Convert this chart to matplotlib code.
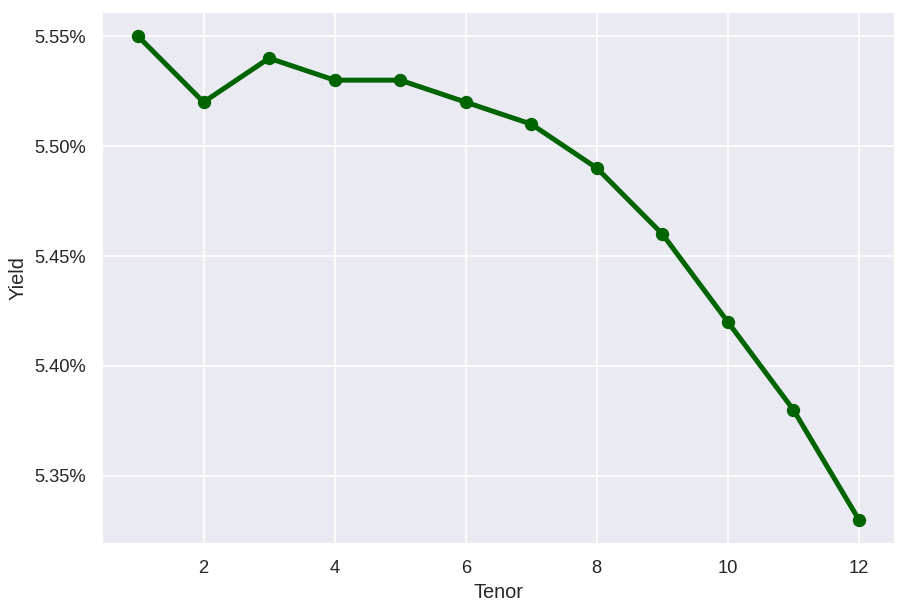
import matplotlib
matplotlib.use("Agg")
import matplotlib.pyplot as plt
import matplotlib.ticker as mtick
import seaborn as sns

tenor = [1, 2, 3, 4, 5, 6, 7, 8, 9, 10, 11, 12]
yields = [5.55, 5.52, 5.54, 5.53, 5.53, 5.52, 5.51, 5.49, 5.46, 5.42, 5.38, 5.33]

sns.set_theme(style="darkgrid")
plt.rcParams['font.family'] = ['Liberation Sans', 'DejaVu Sans']

fig, ax = plt.subplots(figsize=(908 / 120, 613 / 120), dpi=120)
fig.subplots_adjust(left=0.1123, right=0.9857, top=0.9804, bottom=0.1126)

ax.plot(tenor, yields, color='darkgreen', linewidth=3, marker='o', markersize=7)

ax.yaxis.set_major_formatter(mtick.FuncFormatter(lambda v, p: f"{v:.2f}%"))
ax.set_yticks([5.35, 5.40, 5.45, 5.50, 5.55])
ax.set_xticks([2, 4, 6, 8, 10, 12])
ax.set_xlabel("Tenor")
ax.set_ylabel("Yield")

fig.savefig("out.png", dpi=120)
